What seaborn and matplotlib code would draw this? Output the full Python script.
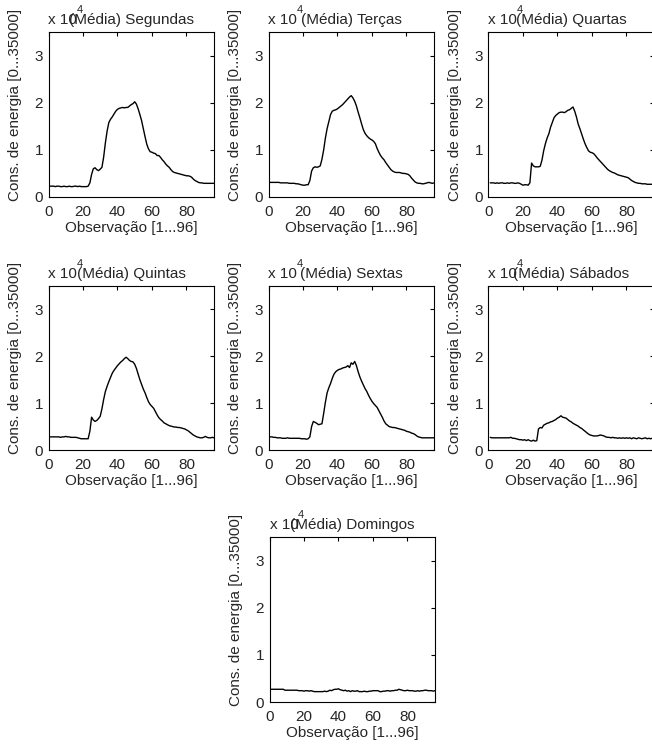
import numpy as np
import matplotlib
matplotlib.use("Agg")
import matplotlib.pyplot as plt
import seaborn as sns

# Average daily load curves, 96 quarter-hour observations per day (units of 10^4)
observacoes = np.arange(1, 97)

segundas = [
    0.23, 0.23, 0.23, 0.22, 0.23, 0.23, 0.22, 0.22, 0.23, 0.22, 0.22, 0.23,
    0.22, 0.22, 0.23, 0.23, 0.22, 0.23, 0.22, 0.22, 0.22, 0.22, 0.23, 0.30,
    0.48, 0.60, 0.62, 0.58, 0.56, 0.59, 0.63, 0.85, 1.15, 1.40, 1.58, 1.65,
    1.70, 1.76, 1.82, 1.86, 1.88, 1.89, 1.90, 1.89, 1.90, 1.90, 1.93, 1.96,
    1.98, 2.02, 1.97, 1.87, 1.75, 1.62, 1.45, 1.28, 1.12, 1.02, 0.96, 0.95,
    0.93, 0.92, 0.88, 0.88, 0.84, 0.79, 0.75, 0.70, 0.66, 0.63, 0.58, 0.54,
    0.52, 0.51, 0.50, 0.49, 0.48, 0.47, 0.46, 0.45, 0.45, 0.44, 0.42, 0.38,
    0.35, 0.33, 0.31, 0.30, 0.30, 0.29, 0.29, 0.29, 0.29, 0.29, 0.29, 0.29,
]

tercas = [
    0.31, 0.31, 0.31, 0.31, 0.31, 0.31, 0.30, 0.30, 0.30, 0.30, 0.30, 0.29,
    0.29, 0.29, 0.29, 0.28, 0.28, 0.27, 0.26, 0.25, 0.25, 0.26, 0.26, 0.35,
    0.55, 0.62, 0.64, 0.63, 0.64, 0.66, 0.80, 1.00, 1.25, 1.45, 1.60, 1.75,
    1.82, 1.84, 1.85, 1.87, 1.90, 1.93, 1.96, 2.00, 2.04, 2.08, 2.12, 2.15,
    2.10, 2.03, 1.93, 1.80, 1.68, 1.55, 1.43, 1.35, 1.30, 1.26, 1.23, 1.21,
    1.18, 1.13, 1.03, 0.95, 0.88, 0.83, 0.79, 0.73, 0.68, 0.63, 0.58, 0.55,
    0.53, 0.52, 0.52, 0.52, 0.51, 0.50, 0.50, 0.49, 0.48, 0.45, 0.40, 0.36,
    0.32, 0.30, 0.29, 0.29, 0.28, 0.28, 0.29, 0.30, 0.31, 0.30, 0.29, 0.30,
]

quartas = [
    0.30, 0.30, 0.30, 0.29, 0.30, 0.29, 0.30, 0.30, 0.29, 0.29, 0.30, 0.29,
    0.30, 0.30, 0.29, 0.29, 0.30, 0.29, 0.27, 0.25, 0.26, 0.26, 0.25, 0.30,
    0.72, 0.66, 0.64, 0.64, 0.64, 0.65, 0.78, 0.98, 1.13, 1.25, 1.34, 1.48,
    1.58, 1.68, 1.73, 1.76, 1.79, 1.80, 1.80, 1.79, 1.81, 1.84, 1.85, 1.88,
    1.91, 1.82, 1.70, 1.55, 1.45, 1.34, 1.23, 1.13, 1.05, 0.98, 0.95, 0.94,
    0.92, 0.88, 0.83, 0.79, 0.75, 0.71, 0.67, 0.63, 0.59, 0.56, 0.54, 0.52,
    0.51, 0.49, 0.47, 0.46, 0.45, 0.44, 0.43, 0.42, 0.41, 0.38, 0.35, 0.33,
    0.31, 0.30, 0.29, 0.29, 0.28, 0.28, 0.28, 0.27, 0.27, 0.27, 0.27, 0.27,
]

quintas = [
    0.28, 0.28, 0.28, 0.28, 0.28, 0.28, 0.27, 0.28, 0.28, 0.29, 0.28, 0.28,
    0.27, 0.27, 0.27, 0.27, 0.26, 0.25, 0.24, 0.24, 0.24, 0.24, 0.24, 0.40,
    0.70, 0.64, 0.61, 0.63, 0.67, 0.72, 0.88, 1.08, 1.25, 1.36, 1.46, 1.55,
    1.64, 1.70, 1.75, 1.80, 1.84, 1.88, 1.91, 1.95, 1.98, 1.95, 1.91, 1.89,
    1.88, 1.83, 1.74, 1.62, 1.50, 1.40, 1.30, 1.22, 1.12, 1.03, 0.97, 0.93,
    0.89, 0.82, 0.75, 0.69, 0.65, 0.62, 0.58, 0.56, 0.54, 0.52, 0.51, 0.50,
    0.49, 0.49, 0.48, 0.48, 0.47, 0.46, 0.45, 0.43, 0.41, 0.38, 0.35, 0.32,
    0.30, 0.28, 0.27, 0.26, 0.26, 0.27, 0.29, 0.27, 0.26, 0.26, 0.27, 0.26,
]

sextas = [
    0.28, 0.28, 0.27, 0.27, 0.26, 0.26, 0.26, 0.25, 0.25, 0.25, 0.26, 0.25,
    0.25, 0.25, 0.25, 0.25, 0.25, 0.25, 0.24, 0.24, 0.24, 0.23, 0.24, 0.28,
    0.50, 0.61, 0.59, 0.57, 0.54, 0.55, 0.56, 0.78, 1.02, 1.22, 1.33, 1.42,
    1.53, 1.62, 1.67, 1.70, 1.72, 1.73, 1.75, 1.76, 1.77, 1.80, 1.76, 1.86,
    1.83, 1.89, 1.80, 1.67, 1.56, 1.47, 1.39, 1.31, 1.25, 1.17, 1.10, 1.04,
    0.99, 0.95, 0.91, 0.84, 0.77, 0.70, 0.62, 0.56, 0.53, 0.50, 0.49, 0.48,
    0.48, 0.47, 0.46, 0.45, 0.44, 0.43, 0.42, 0.40, 0.39, 0.38, 0.36, 0.35,
    0.33, 0.30, 0.28, 0.27, 0.26, 0.26, 0.26, 0.26, 0.26, 0.26, 0.26, 0.26,
]

sabados = [
    0.27, 0.26, 0.26, 0.26, 0.26, 0.26, 0.26, 0.26, 0.26, 0.26, 0.26, 0.26,
    0.27, 0.25, 0.25, 0.24, 0.23, 0.22, 0.22, 0.21, 0.22, 0.20, 0.22, 0.20,
    0.19, 0.21, 0.19, 0.20, 0.45, 0.48, 0.47, 0.53, 0.55, 0.57, 0.58, 0.60,
    0.61, 0.63, 0.65, 0.68, 0.70, 0.73, 0.70, 0.69, 0.68, 0.65, 0.62, 0.60,
    0.57, 0.55, 0.53, 0.51, 0.48, 0.46, 0.43, 0.40, 0.37, 0.34, 0.32, 0.31,
    0.30, 0.30, 0.30, 0.31, 0.32, 0.31, 0.30, 0.28, 0.27, 0.27, 0.26, 0.27,
    0.26, 0.26, 0.25, 0.26, 0.25, 0.26, 0.25, 0.26, 0.25, 0.26, 0.24, 0.26,
    0.25, 0.24, 0.26, 0.25, 0.24, 0.25, 0.26, 0.24, 0.25, 0.24, 0.25, 0.24,
]

domingos = [
    0.27, 0.27, 0.27, 0.27, 0.27, 0.27, 0.27, 0.27, 0.25, 0.25, 0.25, 0.25,
    0.25, 0.25, 0.25, 0.25, 0.24, 0.24, 0.24, 0.23, 0.24, 0.24, 0.23, 0.24,
    0.23, 0.22, 0.22, 0.22, 0.22, 0.22, 0.22, 0.23, 0.22, 0.23, 0.25, 0.24,
    0.26, 0.27, 0.27, 0.28, 0.26, 0.25, 0.24, 0.25, 0.23, 0.24, 0.22, 0.24,
    0.23, 0.23, 0.24, 0.22, 0.22, 0.22, 0.23, 0.22, 0.22, 0.23, 0.23, 0.24,
    0.24, 0.24, 0.24, 0.22, 0.22, 0.23, 0.23, 0.24, 0.24, 0.23, 0.24, 0.24,
    0.25, 0.25, 0.27, 0.26, 0.25, 0.24, 0.24, 0.25, 0.24, 0.24, 0.24, 0.23,
    0.23, 0.24, 0.23, 0.24, 0.24, 0.25, 0.25, 0.24, 0.24, 0.24, 0.23, 0.24,
]

titulos = ["(Média) Segundas", "(Média) Terças", "(Média) Quartas",
           "(Média) Quintas", "(Média) Sextas", "(Média) Sábados",
           "(Média) Domingos"]
series = [segundas, tercas, quartas, quintas, sextas, sabados, domingos]

y_ticks = [0, 1, 2, 3]
x_ticks = [0, 20, 40, 60, 80]

sns.set_style("white")
plt.rcParams["font.family"] = ["Liberation Sans", "DejaVu Sans"]
plt.rcParams["font.size"] = 11

W, H = 652, 747
fig = plt.figure(figsize=(W / 100, H / 100), dpi=100)

# axes boxes in pixels: (left, top, right, bottom)
caixas = [
    (48.5, 32, 214, 197), (268.5, 32, 434, 197), (488.5, 32, 654, 197),
    (48.5, 286, 214, 450), (268.5, 286, 434, 450), (488.5, 286, 654, 450),
    (269.5, 537, 435, 702),
]

for (l, t, r, b), titulo, valores in zip(caixas, titulos, series):
    ax = fig.add_axes([l / W, 1 - b / H, (r - l) / W, (b - t) / H])
    sns.lineplot(x=observacoes, y=valores, ax=ax, color="black",
                 linewidth=1.0)
    ax.set_xlim(0, 96)
    ax.set_ylim(0, 3.5)
    ax.set_xticks(x_ticks)
    ax.set_yticks(y_ticks)
    ax.tick_params(direction="in", top=True, right=True, length=3,
                   width=0.8, color="black", labelsize=11, pad=4)
    ax.tick_params(axis="x", pad=5.5)
    for s in ax.spines.values():
        s.set_color("black")
        s.set_linewidth(0.8)
        s.set_visible(True)
    ax.set_xlabel("Observação [1...96]", fontsize=11, labelpad=2)
    ax.set_ylabel("Cons. de energia [0...35000]", fontsize=11)
    ax.yaxis.set_label_coords(-0.16, 0.56)
    ax.set_title(titulo, fontsize=11, pad=5.8)
    # axis multiplier drawn under the title, as the scale factor x 10^4
    ax.annotate("x 10", xy=(0, 1), xycoords="axes fraction",
                xytext=(0, 8), textcoords="offset pixels",
                ha="left", va="baseline", fontsize=11)
    ax.annotate("4", xy=(0, 1), xycoords="axes fraction",
                xytext=(28, 19), textcoords="offset pixels",
                ha="left", va="baseline", fontsize=8)

fig.savefig("out.png", dpi=100)
